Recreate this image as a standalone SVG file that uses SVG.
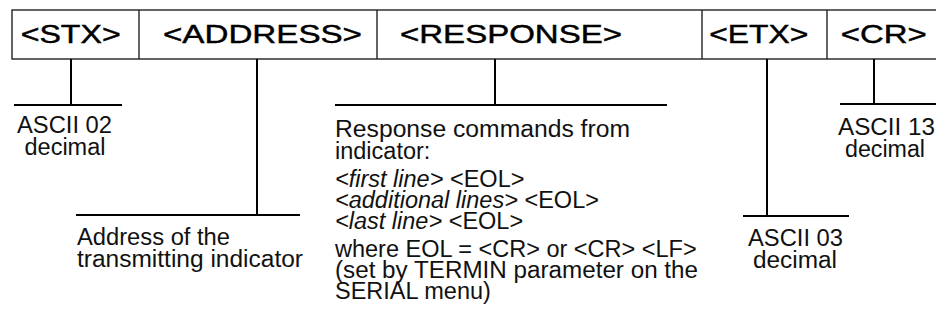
<svg xmlns="http://www.w3.org/2000/svg" width="936" height="332" viewBox="0 0 936 332">
<style>
.box{fill:#fff;stroke:#222;stroke-width:1.4}
.div{stroke:#222;stroke-width:1.4}
.hdr{font-family:"Liberation Sans",Arial,sans-serif;font-size:26px;fill:#000;stroke:#000;stroke-width:0.45}
.txt{font-family:"Liberation Sans",Arial,sans-serif;font-size:23.5px;fill:#111}
.it{font-style:italic}
.conn line{stroke:#000;stroke-width:2}
</style>
<rect width="936" height="332" fill="#fff"/>
<g id="frame">
<rect class="box" x="12" y="10" width="930" height="49"/>
</g>
<g id="stx"><line class="div" x1="139" y1="10" x2="139" y2="59"/><text class="hdr" x="20.7" y="43" textLength="100" lengthAdjust="spacingAndGlyphs">&lt;STX&gt;</text></g>
<g id="address"><line class="div" x1="377" y1="10" x2="377" y2="59"/><text class="hdr" x="163" y="43" textLength="199" lengthAdjust="spacingAndGlyphs">&lt;ADDRESS&gt;</text></g>
<g id="response"><text class="hdr" x="400" y="43" textLength="222" lengthAdjust="spacingAndGlyphs">&lt;RESPONSE&gt;</text></g>
<g id="etx"><line class="div" x1="702" y1="10" x2="702" y2="59"/><text class="hdr" x="709.3" y="43" textLength="99" lengthAdjust="spacingAndGlyphs">&lt;ETX&gt;</text></g>
<g id="cr"><line class="div" x1="827" y1="10" x2="827" y2="59"/><text class="hdr" x="840.7" y="43" textLength="86" lengthAdjust="spacingAndGlyphs">&lt;CR&gt;</text></g>
<g class="conn" id="connectors">
<line x1="71" y1="59" x2="71" y2="105"/><line x1="14" y1="105" x2="122" y2="105"/>
<line x1="257" y1="59" x2="257" y2="215"/><line x1="76" y1="215" x2="300" y2="215"/>
<line x1="495" y1="59" x2="495" y2="105"/><line x1="335" y1="105" x2="667" y2="105"/>
<line x1="767" y1="59" x2="767" y2="216"/><line x1="743" y1="216" x2="849" y2="216"/>
<line x1="874" y1="59" x2="874" y2="104"/><line x1="840" y1="104" x2="936" y2="104"/>
</g>
<g id="note-stx">
<text class="txt" x="17" y="133" textLength="95" lengthAdjust="spacingAndGlyphs">ASCII 02</text>
<text class="txt" x="65" y="155" text-anchor="middle" textLength="81" lengthAdjust="spacingAndGlyphs">decimal</text>
</g>
<g id="note-address">
<text class="txt" x="77" y="245" textLength="153" lengthAdjust="spacingAndGlyphs">Address of the</text>
<text class="txt" x="77" y="267" textLength="226" lengthAdjust="spacingAndGlyphs">transmitting indicator</text>
</g>
<g id="note-response">
<text class="txt" x="335" y="137" textLength="295" lengthAdjust="spacingAndGlyphs">Response commands from</text>
<text class="txt" x="335" y="159">indicator:</text>
<text class="txt" x="335" y="187"><tspan class="it">&lt;first line&gt;</tspan> &lt;EOL&gt;</text>
<text class="txt" x="335" y="208"><tspan class="it">&lt;additional lines&gt;</tspan> &lt;EOL&gt;</text>
<text class="txt" x="335" y="229"><tspan class="it">&lt;last line&gt;</tspan> &lt;EOL&gt;</text>
<text class="txt" x="335" y="257">where EOL = &lt;CR&gt; or &lt;CR&gt; &lt;LF&gt;</text>
<text class="txt" x="335" y="278" textLength="363" lengthAdjust="spacingAndGlyphs">(set by TERMIN parameter on the</text>
<text class="txt" x="335" y="299">SERIAL menu)</text>
</g>
<g id="note-etx">
<text class="txt" x="795.5" y="246" text-anchor="middle" textLength="95" lengthAdjust="spacingAndGlyphs">ASCII 03</text>
<text class="txt" x="795" y="268" text-anchor="middle" textLength="84" lengthAdjust="spacingAndGlyphs">decimal</text>
</g>
<g id="note-cr">
<text class="txt" x="886.5" y="135" text-anchor="middle" textLength="97" lengthAdjust="spacingAndGlyphs">ASCII 13</text>
<text class="txt" x="885" y="157" text-anchor="middle" textLength="80" lengthAdjust="spacingAndGlyphs">decimal</text>
</g>
</svg>
